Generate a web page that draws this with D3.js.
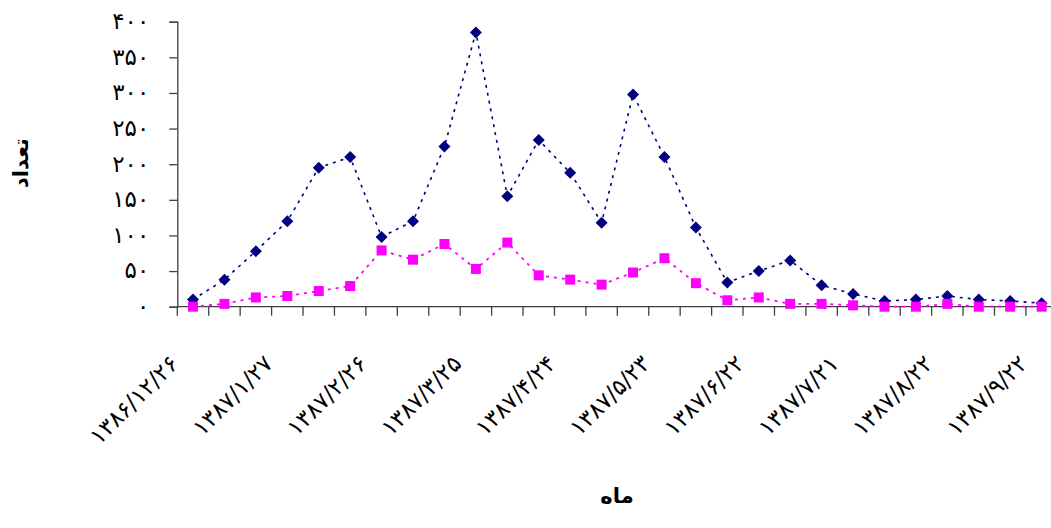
<!DOCTYPE html>
<html><head><meta charset="utf-8">
<script src="https://cdn.jsdelivr.net/npm/d3@7"></script>
<style>
html,body{margin:0;padding:0;background:#fff;overflow:hidden;}
svg{display:block;}
text{font-family:"DejaVu Sans",sans-serif;}
</style></head>
<body>
<svg id="chart" width="1051" height="528"></svg>
<script>
const categories = [
 "۱۳۸۶/۱۲/۲۶","۱۳۸۷/۱/۷","۱۳۸۷/۱/۱۷","۱۳۸۷/۱/۲۷","۱۳۸۷/۲/۶","۱۳۸۷/۲/۱۶","۱۳۸۷/۲/۲۶",
 "۱۳۸۷/۳/۵","۱۳۸۷/۳/۱۵","۱۳۸۷/۳/۲۵","۱۳۸۷/۴/۴","۱۳۸۷/۴/۱۴","۱۳۸۷/۴/۲۴","۱۳۸۷/۵/۳",
 "۱۳۸۷/۵/۱۳","۱۳۸۷/۵/۲۳","۱۳۸۷/۶/۲","۱۳۸۷/۶/۱۲","۱۳۸۷/۶/۲۲","۱۳۸۷/۷/۱","۱۳۸۷/۷/۱۱",
 "۱۳۸۷/۷/۲۱","۱۳۸۷/۸/۱","۱۳۸۷/۸/۱۲","۱۳۸۷/۸/۲۲","۱۳۸۷/۹/۲","۱۳۸۷/۹/۱۲","۱۳۸۷/۹/۲۲"
];
const seriesA = [10,38,78,120,195,210,98,120,225,385,155,234,188,118,298,210,111,34,50,65,30,18,8,10,15,10,8,5];
const seriesB = [0,4,13,15,22,29,79,66,88,53,90,44,38,31,48,68,33,9,13,4,4,2,0,0,4,0,0,0];
const yTicks = [0,50,100,150,200,250,300,350,400];
const yTickLabels = ["۰","۵۰","۱۰۰","۱۵۰","۲۰۰","۲۵۰","۳۰۰","۳۵۰","۴۰۰"];
const xLabelEvery = 3;
const yTitle = "تعداد";
const xTitle = "ماه";

const svg = d3.select("#chart");
const x0 = 177.3, step = 31.43;
const x = d3.scaleBand().domain(categories).range([x0, x0 + step*categories.length]).padding(0);
const y = d3.scaleLinear().domain([0,400]).range([306.7, 21.7]);
const axisColor = "#404040";

// y axis
const yAxis = d3.axisLeft(y).tickValues(yTicks).tickSize(8)
  .tickFormat((d,i)=>yTickLabels[i]);
const gy = svg.append("g").attr("transform",`translate(${x0},0)`).call(yAxis);
gy.select(".domain").attr("stroke",axisColor).attr("stroke-width",1.3);
gy.selectAll(".tick line").attr("stroke",axisColor).attr("stroke-width",1.3);
gy.selectAll(".tick text").attr("x",-28).attr("font-size",23).attr("fill","#000")
  .attr("font-family","DejaVu Sans").attr("dy","0.3em");

// x axis line
svg.append("line").attr("x1",x0).attr("x2",x.range()[1]).attr("y1",y(0)).attr("y2",y(0))
  .attr("stroke",axisColor).attr("stroke-width",1.3);
// boundary ticks
const bounds = categories.map(c=>x(c)).concat([x.range()[1]]);
svg.append("g").selectAll("line").data(bounds).join("line")
  .attr("x1",d=>d).attr("x2",d=>d).attr("y1",y(0)).attr("y2",y(0)+9)
  .attr("stroke",axisColor).attr("stroke-width",1.3);

// x labels
svg.append("g").selectAll("text").data(categories.filter((c,i)=>i%xLabelEvery===0)).join("text")
  .attr("transform",d=>`translate(${x(d)+x.bandwidth()/2-13},${365}) rotate(-45)`)
  .attr("text-anchor","end").attr("direction","ltr").attr("font-size",23).attr("fill","#000")
  .text(d=>d);

// lines
const line = (arr)=>d3.line().x((d,i)=>x(categories[i])+x.bandwidth()/2).y(d=>y(d))(arr);
svg.append("path").attr("d",line(seriesA)).attr("fill","none").attr("stroke","#000080")
  .attr("stroke-width",1.6).attr("stroke-dasharray","3,5");
svg.append("path").attr("d",line(seriesB)).attr("fill","none").attr("stroke","#FF00FF")
  .attr("stroke-width",1.8).attr("stroke-dasharray","3,5");

// markers
svg.append("g").selectAll("path").data(seriesA).join("path")
  .attr("transform",(d,i)=>`translate(${x(categories[i])+x.bandwidth()/2},${y(d)})`)
  .attr("d","M0,-6L6,0L0,6L-6,0Z").attr("fill","#000080");
svg.append("g").selectAll("rect").data(seriesB).join("rect")
  .attr("x",(d,i)=>x(categories[i])+x.bandwidth()/2-5).attr("y",d=>y(d)-5)
  .attr("width",10).attr("height",10).attr("fill","#FF00FF");

// titles
svg.append("text").attr("transform","translate(28,163) rotate(-90)").attr("text-anchor","middle")
  .attr("font-size",21).attr("font-weight","bold").attr("fill","#000").text(yTitle);
svg.append("text").attr("x",617).attr("y",503).attr("text-anchor","middle")
  .attr("font-size",21).attr("font-weight","bold").attr("fill","#000").text(xTitle);
</script>
</body></html>
